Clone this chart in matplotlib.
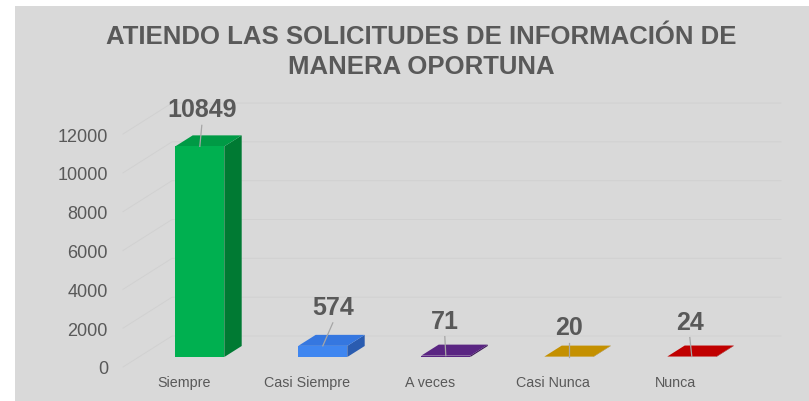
import matplotlib.pyplot as plt
from matplotlib.patches import Polygon, Rectangle

categories = ['Siempre', 'Casi Siempre', 'A veces', 'Casi Nunca', 'Nunca']
values = [10849, 574, 71, 20, 24]
y_ticks = [0, 2000, 4000, 6000, 8000, 10000, 12000]
title_lines = ['ATIENDO LAS SOLICITUDES DE INFORMACIÓN DE', 'MANERA OPORTUNA']

front_colors = ['#00b050', '#3f86f0', '#5a2582', '#c49000', '#c00000']
top_colors = ['#009a45', '#3577e0', '#5a2582', '#c49000', '#c00000']
side_colors = ['#007a33', '#2a5cb0', '#3d1859', '#8f6900', '#8a0000']

# manual nudges of the value labels (pixels, right / up from bar top)
label_dx_px = [2, 10, -1, 0, -2]
label_dy_px = [37, 39, 35, 30, 35]

plt.rcParams['font.family'] = ['Liberation Sans', 'DejaVu Sans']
TXT = '#595959'

W_PX, H_PX = 809, 402
fig = plt.figure(figsize=(W_PX / 100, H_PX / 100), dpi=100)
fig.patch.set_facecolor('white')
fig.patches.append(Rectangle((15 / W_PX, 0), 1 - 15 / W_PX, 1 - 7 / H_PX,
                             transform=fig.transFigure, facecolor='#d9d9d9',
                             edgecolor='none', zorder=-5))

# axes box in pixels, data mapping chosen so category i sits at 184 + 123*i px
L, R, T, B = 110, 800, 90, 376
X0, XS = 184.0, 123.0
Y0, YS = 368.0, 2000 / 38.83
ax = fig.add_axes([L / W_PX, 1 - B / H_PX, (R - L) / W_PX, (B - T) / H_PX])
ax.set_xlim((L - X0) / XS, (R - X0) / XS)
ax.set_ylim((Y0 - B) * YS, (Y0 - T) * YS)
ax.patch.set_alpha(0)
for s in ax.spines.values():
    s.set_visible(False)

DX, DY = 49 / XS, 31 * YS      # full depth of the 3D box
d1, d2 = 10 / 31, 21 / 31      # bar front / back depth
bw = 49 / XS


def pt(x, v, d):
    return (x + d * DX, v + d * DY)


# gridlines on side wall + back wall
x_wall = (123 - X0) / XS
x_end = (781 - 49 - X0) / XS
for v in y_ticks:
    a = pt(x_wall, v, 0)
    b = pt(x_wall, v, 1)
    c = pt(x_end, v, 1)
    ax.plot([a[0], b[0], c[0]], [a[1], b[1], c[1]], color='#d1d1d1', lw=0.7, zorder=1)

for i, v in enumerate(values):
    xl, xr = i - bw / 2, i + bw / 2
    front = [pt(xl, 0, d1), pt(xr, 0, d1), pt(xr, v, d1), pt(xl, v, d1)]
    side = [pt(xr, 0, d1), pt(xr, 0, d2), pt(xr, v, d2), pt(xr, v, d1)]
    top = [pt(xl, v, d1), pt(xr, v, d1), pt(xr, v, d2), pt(xl, v, d2)]
    ax.add_patch(Polygon(side, closed=True, facecolor=side_colors[i], edgecolor='none', zorder=3))
    ax.add_patch(Polygon(top, closed=True, facecolor=top_colors[i], edgecolor='none', zorder=3))
    ax.add_patch(Polygon(front, closed=True, facecolor=front_colors[i], edgecolor='none', zorder=4))

    fx, fy = pt(i, v, d1)
    lx = fx + label_dx_px[i] / XS
    ly = fy + label_dy_px[i] * YS
    ax.text(lx, ly, str(v), ha='center', va='center', fontsize=18,
            fontweight='bold', color=TXT, zorder=6)
    ax.plot([lx, fx], [ly - 16 * YS, fy], color='#a6a6a6', lw=0.9, zorder=5)

ax.set_yticks(y_ticks)
ax.set_yticklabels([str(t) for t in y_ticks], fontsize=13, color=TXT)
ax.set_xticks(range(len(categories)))
ax.set_xticklabels(categories, fontsize=10.3, color=TXT)
ax.tick_params(axis='both', length=0)
ax.tick_params(axis='y', pad=1.5)
ax.tick_params(axis='x', pad=0)

fig.text(421 / W_PX, 1 - 37 / H_PX, title_lines[0], ha='center', va='center',
         fontsize=18.5, fontweight='bold', color=TXT)
fig.text(421 / W_PX, 1 - 67 / H_PX, title_lines[1], ha='center', va='center',
         fontsize=18.5, fontweight='bold', color=TXT)

fig.savefig('out.png', dpi=100)
